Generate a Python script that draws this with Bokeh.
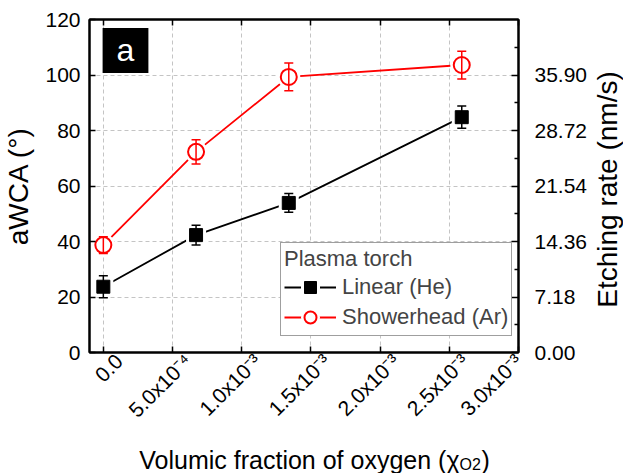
import math
from bokeh.plotting import figure
from bokeh.layouts import gridplot
from bokeh.models import (Range1d, LinearAxis, FixedTicker, Whisker, TeeHead,
                          ColumnDataSource, Legend, LegendItem, Label,
                          PrintfTickFormatter)
from bokeh.embed import file_html
from bokeh.resources import INLINE

# ---------------- data ----------------
x_o2 = [0.0, 6.7e-4, 1.34e-3, 2.59e-3]
linear_he = [23.7, 42.3, 53.9, 84.8]
linear_he_err = [4.0, 3.6, 3.4, 4.0]
shower_ar = [38.7, 72.3, 99.3, 103.6]
shower_ar_err = [3.0, 4.4, 5.0, 5.0]

x_ticks = [0.0, 5e-4, 1e-3, 1.5e-3, 2e-3, 2.5e-3, 3e-3]
x_tick_labels = ["0.0", "5.0x10\u207b\u2074", "1.0x10\u207b\u00b3", "1.5x10\u207b\u00b3",
                 "2.0x10\u207b\u00b3", "2.5x10\u207b\u00b3", "3.0x10\u207b\u00b3"]
y_ticks = [0, 20, 40, 60, 80, 100, 120]
rate_ticks = [0.0, 7.18, 14.36, 21.54, 28.72, 35.90]
rate_minor = [3.59, 10.77, 17.95, 25.13, 32.31, 39.49]
rate_max = 43.08

FONT = "Liberation Sans"
TICK_FS = "21px"

W_TOTAL, H_TOTAL = 623, 473
BL, BT = 84, 19
FRAME_W, FRAME_H = 438, 334
BR = 68
BB = 79
WP = BL + FRAME_W + BR
HP = BT + FRAME_H + BB
X0, X1 = -1e-4, 3e-3

p = figure(width=WP, height=HP, output_backend="svg", toolbar_location=None,
           x_range=Range1d(X0, X1), y_range=Range1d(0, 120),
           min_border_left=BL, min_border_right=BR, min_border_top=BT,
           min_border_bottom=BB)
p.extra_y_ranges = {"rate": Range1d(0, rate_max)}
p.background_fill_color = "white"
p.border_fill_color = "white"
p.outline_line_color = "black"
p.outline_line_width = 2
p.xaxis.visible = False
p.yaxis.visible = False


def style_axis(ax, fs=TICK_FS):
    ax.axis_line_width = 2
    ax.axis_line_color = "black"
    ax.major_tick_line_width = 1.5
    ax.major_tick_line_color = "black"
    ax.minor_tick_line_color = "black"
    ax.minor_tick_line_width = 1.5
    ax.major_tick_in = 6
    ax.major_tick_out = 0
    ax.minor_tick_in = 0
    ax.minor_tick_out = 0
    ax.major_label_text_font = FONT
    ax.major_label_text_font_size = fs
    ax.major_label_text_color = "black"
    ax.axis_label_text_font = FONT
    ax.axis_label_text_font_style = "normal"
    ax.axis_label_text_color = "black"


xticker = FixedTicker(ticks=x_ticks)
yticker = FixedTicker(ticks=y_ticks)

# frame axes (ticks only) at bottom and top
for side in ("below", "above"):
    ax = LinearAxis(ticker=xticker)
    style_axis(ax)
    ax.major_label_overrides = {t: "" for t in x_ticks}
    ax.major_label_standoff = 0
    p.add_layout(ax, side)

# rotated x tick labels, nudged to the right like the original
px_per_unit = FRAME_W / (X1 - X0)
nudge = 16 / px_per_unit
label_pos = [min(t + nudge, X1) for t in x_ticks]
xlab = LinearAxis(ticker=FixedTicker(ticks=label_pos))
style_axis(xlab)
xlab.axis_line_color = None
xlab.major_tick_line_color = None
xlab.major_label_overrides = {pos: lab for pos, lab in zip(label_pos, x_tick_labels)}
xlab.major_label_orientation = math.pi / 4
xlab.major_label_standoff = 5
p.add_layout(xlab, "below")

yl = LinearAxis(ticker=yticker)
style_axis(yl)
yl.axis_label = "aWCA (\u00b0)"
yl.axis_label_text_font_size = "28px"
yl.major_label_standoff = 9
yl.axis_label_standoff = 8
p.add_layout(yl, "left")

yr = LinearAxis(y_range_name="rate",
                ticker=FixedTicker(ticks=rate_ticks, minor_ticks=rate_minor))
style_axis(yr)
yr.formatter = PrintfTickFormatter(format="%.2f")
yr.major_tick_in = 7
yr.minor_tick_in = 4
yr.major_label_standoff = 16
p.add_layout(yr, "right")

# grids
p.xgrid.ticker = xticker
p.ygrid.ticker = yticker
for g in (p.xgrid[0], p.ygrid[0]):
    g.grid_line_color = "#c4c4c4"
    g.grid_line_dash = "4 3"
    g.grid_line_width = 1

# sources
src_he = ColumnDataSource(dict(x=x_o2, y=linear_he,
                               upper=[v + e for v, e in zip(linear_he, linear_he_err)],
                               lower=[v - e for v, e in zip(linear_he, linear_he_err)]))
src_ar = ColumnDataSource(dict(x=x_o2, y=shower_ar,
                               upper=[v + e for v, e in zip(shower_ar, shower_ar_err)],
                               lower=[v - e for v, e in zip(shower_ar, shower_ar_err)]))

RED = "#ff0000"
l_he = p.line("x", "y", source=src_he, line_color="black", line_width=1.8)
l_ar = p.line("x", "y", source=src_ar, line_color=RED, line_width=1.8)
h_he = p.scatter("x", "y", source=src_he, marker="square", size=13,
                 fill_color="white", line_color="white", line_width=7)
h_ar = p.scatter("x", "y", source=src_ar, marker="circle", size=16,
                 fill_color="white", line_color="white", line_width=7)

for src, col in ((src_he, "black"), (src_ar, RED)):
    w = Whisker(base="x", upper="upper", lower="lower", source=src,
                line_color=col, line_width=1.5, level="glyph",
                upper_head=TeeHead(size=9, line_color=col, line_width=1.5),
                lower_head=TeeHead(size=9, line_color=col, line_width=1.5))
    p.add_layout(w)

m_he = p.scatter("x", "y", source=src_he, marker="square", size=13,
                 fill_color="black", line_color="black", line_width=1)
m_ar = p.scatter("x", "y", source=src_ar, marker="circle", size=16,
                 fill_color="white", line_color=RED, line_width=2)

legend = Legend(items=[LegendItem(label="Linear (He)", renderers=[l_he, h_he, m_he]),
                       LegendItem(label="Showerhead (Ar)", renderers=[l_ar, h_ar, m_ar])],
                title="Plasma torch", location=(191, 16))
legend.title_text_font = FONT
legend.title_text_font_size = "22px"
legend.title_text_font_style = "normal"
legend.title_standoff = 0
legend.label_text_font = FONT
legend.label_text_font_size = "22px"
legend.label_standoff = 6
legend.glyph_width = 52
legend.glyph_height = 30
legend.label_height = 24
legend.spacing = -5
legend.padding = 3
legend.margin = 0
legend.border_line_color = "#404040"
legend.border_line_width = 1
legend.background_fill_color = "white"
legend.background_fill_alpha = 1
p.add_layout(legend)

# panel letter
p.add_layout(Label(x=36, y=302, x_units="screen", y_units="screen", text="a",
                   text_font=FONT, text_font_size="32px", text_color="white",
                   text_align="center", text_baseline="middle",
                   background_fill_color="black",
                   padding={"left": 14, "right": 14, "top": 4, "bottom": 5}))


def blank(width, height, **borders):
    f = figure(width=width, height=height, output_backend="svg", toolbar_location=None,
               x_range=Range1d(0, 1), y_range=Range1d(0, 1), **borders)
    f.xaxis.visible = False
    f.yaxis.visible = False
    f.xgrid.visible = False
    f.ygrid.visible = False
    f.outline_line_color = None
    f.background_fill_color = "white"
    f.border_fill_color = "white"
    return f


# right strip: axis title reading bottom-to-top
WR = W_TOTAL - WP
r = blank(WR, HP, min_border_left=0, min_border_right=0,
          min_border_top=BT, min_border_bottom=BB)
r.add_layout(Label(x=WR / 2, y=FRAME_H / 2 - 4, x_units="screen", y_units="screen",
                   text="Etching rate (nm/s)", angle=math.pi / 2,
                   text_font=FONT, text_font_size="28px", text_color="black",
                   text_align="center", text_baseline="middle"))

# bottom strip: x axis title with subscript
HQ = H_TOTAL - HP
q = blank(WP, HQ, min_border_left=BL, min_border_right=BR,
          min_border_top=0, min_border_bottom=0)
XT = 370
YB = 14
q.add_layout(Label(x=XT, y=YB, x_units="screen", y_units="screen",
                   text="Volumic fraction of oxygen (\u03c7", text_font=FONT,
                   text_font_size="25px", text_align="right",
                   text_baseline="alphabetic", text_color="black"))
q.add_layout(Label(x=XT, y=YB - 5, x_units="screen", y_units="screen",
                   text="O2", text_font=FONT, text_font_size="16px",
                   text_align="left", text_baseline="alphabetic", text_color="black"))
q.add_layout(Label(x=XT + 22, y=YB, x_units="screen", y_units="screen",
                   text=")", text_font=FONT, text_font_size="25px",
                   text_align="left", text_baseline="alphabetic", text_color="black"))

grid = gridplot([[p, r], [q, None]], toolbar_location=None)
open("out.html", "w").write(file_html(grid, INLINE))
